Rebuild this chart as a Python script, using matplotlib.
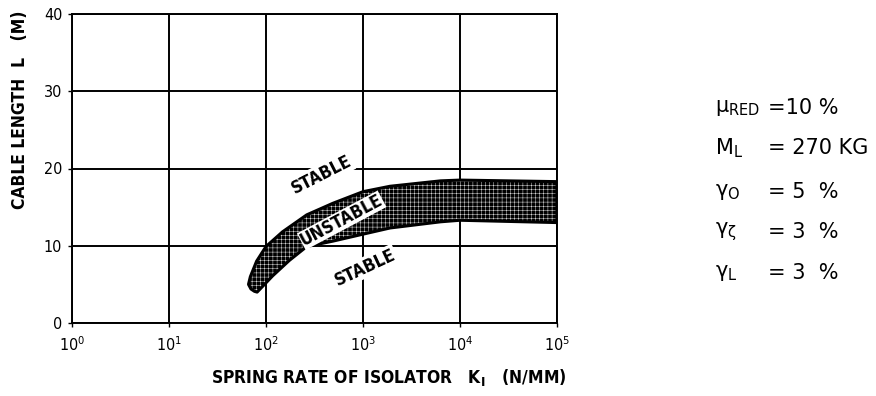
import matplotlib
matplotlib.use("Agg")
import matplotlib.pyplot as plt

# ---- data ----
upper_k = [66, 69, 80, 100, 148, 263, 490, 1000, 1900, 6300, 1e4, 1e5]
upper_l = [5.0, 6.0, 8.0, 9.9, 11.8, 14.0, 15.5, 17.0, 17.7, 18.4, 18.5, 18.3]
lower_k = [1e5, 1e4, 6300, 1900, 1000, 490, 263, 174, 117, 81, 76, 70]
lower_l = [13.0, 13.3, 13.1, 12.3, 11.5, 10.6, 9.9, 8.1, 6.1, 4.0, 4.1, 4.4]

x_ticks = [1, 10, 100, 1000, 1e4, 1e5]
x_ticklabels = [r"$10^0$", r"$10^1$", r"$10^2$", r"$10^3$", r"$10^4$", r"$10^5$"]
y_ticks = [0, 10, 20, 30, 40]

params_sym = [r"μ$_{\mathrm{RED}}$", r"M$_{\mathrm{L}}$", r"γ$_{\mathrm{O}}$",
              r"γ$_{\zeta}$", r"γ$_{\mathrm{L}}$"]
params_val = ["=10 %", "= 270 KG", "= 5  %", "= 3  %", "= 3  %"]

plt.rcParams['font.family'] = ['DejaVu Sans']
plt.rcParams['hatch.linewidth'] = 0.3
plt.rcParams['mathtext.fontset'] = 'dejavusans'
plt.rcParams['mathtext.default'] = 'regular'

fig = plt.figure(figsize=(8.76, 3.96), dpi=100)
ax = fig.add_axes([72/876, 1-323/396, (557-72)/876, (323-14)/396])

ax.set_xscale('log')
ax.set_xlim(1, 1e5)
ax.set_ylim(0, 40)

ax.grid(True, which='major', color='black', linewidth=1.4, zorder=1)
ax.minorticks_off()
ax.set_xticks(x_ticks)
ax.set_xticklabels(x_ticklabels)
ax.set_yticks(y_ticks)
for lab in ax.get_xticklabels() + ax.get_yticklabels():
    lab.set_fontsize(11.5)
    lab.set_fontstretch('condensed')
ax.tick_params(axis='both', direction='out', length=3, width=1, color='black', pad=4)
ax.tick_params(axis='x', pad=6)
for s in ax.spines.values():
    s.set_color('black')
    s.set_linewidth(1.4)

# band
poly_k = upper_k + lower_k
poly_l = upper_l + lower_l
ax.fill(poly_k, poly_l, facecolor='#000000', edgecolor='white', hatch='++++',
        linewidth=0, zorder=3)
ax.fill(poly_k, poly_l, facecolor='none', edgecolor='black', linewidth=2.2, zorder=4,
        joinstyle='round')

lab_kw = dict(ha='center', va='center', fontsize=12.5, fontstretch='condensed',
              fontweight='bold', zorder=5)
ax.text(10**2.57, 19.2, "STABLE", rotation=27,
        bbox=dict(facecolor='white', edgecolor='none', pad=1), **lab_kw)
ax.text(10**3.02, 7.2, "STABLE", rotation=25,
        bbox=dict(facecolor='white', edgecolor='none', pad=1), **lab_kw)
ax.text(10**2.78, 13.3, "UNSTABLE", rotation=28,
        bbox=dict(facecolor='white', edgecolor='none', pad=0.3), **lab_kw)

# axis labels
fig.text(20/876, 1-110/396, "CABLE LENGTH  L   (M)", rotation=90, ha='center', va='center',
         fontsize=12.5, fontstretch='condensed', fontweight='bold')
fig.text(389/876, 1-378/396, r"SPRING RATE OF ISOLATOR   K$_{\mathbf{I}}$   (N/MM)",
         ha='center', va='center', fontsize=12.5, fontstretch='condensed',
         fontweight='bold')

# parameter block
rows_y = [108, 148, 192, 232, 273]
for sym, val, yy in zip(params_sym, params_val, rows_y):
    fig.text(715/876, 1-yy/396, sym, ha='left', va='center', fontsize=15)
    fig.text(768/876, 1-yy/396, val, ha='left', va='center', fontsize=15)

fig.savefig("out.png", dpi=100)
